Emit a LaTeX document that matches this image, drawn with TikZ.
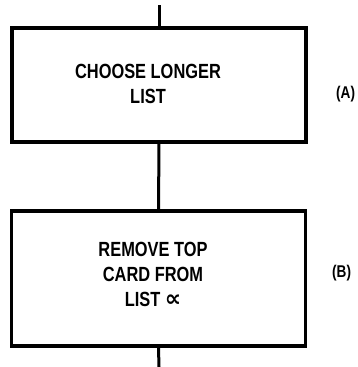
\documentclass[tikz,border=0pt]{standalone}
\usepackage{fontspec}
\setmainfont{Liberation Sans}[FakeStretch=0.8]
\newfontfamily\symfont{DejaVu Sans}
\usetikzlibrary{positioning}

\tikzset{
  flowbox/.style={draw, line width=3.4pt, minimum width=294pt, inner sep=0pt},
  boxtext/.style={align=center, inner sep=0pt, font=\bfseries\fontsize{20.5}{25}\selectfont},
  steplabel/.style={anchor=west, inner sep=0pt, font=\bfseries\fontsize{17}{17}\selectfont},
  flowline/.style={line width=3pt}
}

\begin{document}
\begin{tikzpicture}[x=1pt,y=-1pt]
        \useasboundingbox (0,0) rectangle (357,367);
        % the two steps
        \node [flowbox, minimum height=114pt] (chooseA) at (159,85) {};
        \node [flowbox, minimum height=135pt] (removeB) at (158.5,278.5) {};
        \node [boxtext] (chooseText) at (148,84) {CHOOSE LONGER\\LIST};
        \node [boxtext] (removeText) at (153,274) {REMOVE TOP\\CARD FROM\\LIST {\symfont\bfseries\fontsize{23}{25}\selectfont ∝}};
        \node [steplabel] (labelA) at (336,94) {(A)};
        \node [steplabel] (labelB) at (332,273) {(B)};
        % flow lines
        \coordinate (flowIn) at (159,5);
        \coordinate (flowOut) at (159,367);
        \draw [flowline] (flowIn) -- (chooseA.north);
        \draw [flowline] (chooseA.south) -- (removeB.north);
        \draw [flowline] (removeB.south) -- (flowOut);
\end{tikzpicture}
\end{document}
